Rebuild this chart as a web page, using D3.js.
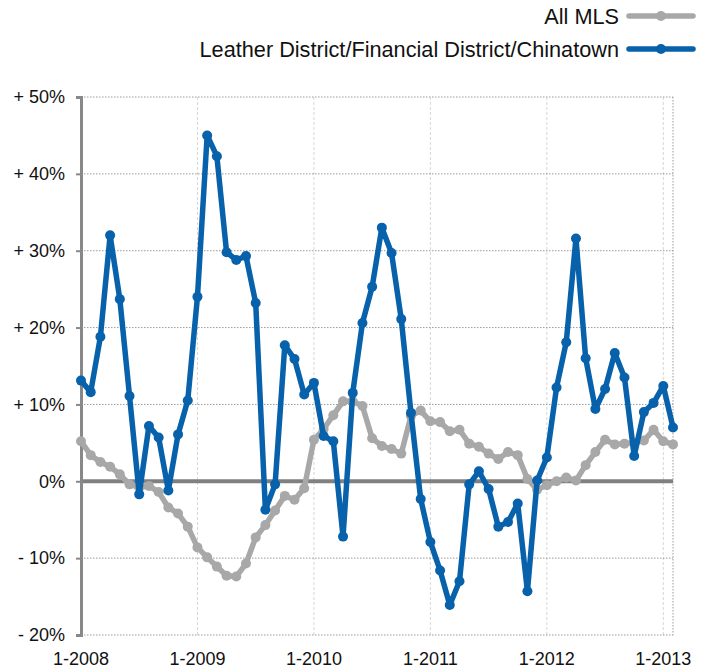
<!DOCTYPE html>
<html>
<head>
<meta charset="utf-8">
<style>
  body { margin: 0; background: #fff; }
  svg { display: block; font-family: "Liberation Sans", Arial, sans-serif; }
  .grid-h line { stroke: #9a9a9a; stroke-width: 1; stroke-dasharray: 1.5 1.5; }
  .grid-v line { stroke: #d6d6d6; stroke-width: 1; stroke-dasharray: 3 2; }
</style>
</head>
<body>
<svg width="709" height="668"></svg>
<script src="https://cdn.jsdelivr.net/npm/d3@7"></script>
<script>

// monthly values, Jan 2008 .. Feb 2013 (% change year over year)
var allMLS = [5.2, 3.4, 2.5, 1.9, 0.9, -0.4, -0.8, -0.6, -1.4, -3.4, -4.2, -5.9,
              -8.6, -9.9, -11.1, -12.3, -12.4, -10.7, -7.3, -5.7, -3.8, -1.9, -2.4, -0.9,
              5.4, 6.8, 8.6, 10.4, 10.4, 9.8, 5.6, 4.6, 4.2, 3.6, 8.5, 9.2,
              7.8, 7.7, 6.5, 6.7, 4.9, 4.5, 3.6, 2.9, 3.8, 3.4, 0.3, -1.1,
              -0.5, 0.0, 0.5, 0.1, 2.1, 3.8, 5.4, 4.8, 4.9, 5.0, 5.3, 6.7,
              5.2, 4.8];

var leather = [13.1, 11.6, 18.8, 32.0, 23.7, 11.1, -1.7, 7.2, 5.7, -1.2, 6.1, 10.5,
               24.0, 45.0, 42.3, 29.8, 28.8, 29.3, 23.2, -3.7, -0.4, 17.7, 15.9, 11.3,
               12.8, 5.9, 5.2, -7.2, 11.5, 20.6, 25.3, 33.0, 29.7, 21.1, 8.9, -2.3,
               -7.9, -11.6, -16.1, -13.0, -0.4, 1.3, -1.0, -5.9, -5.3, -2.9, -14.3, 0.1,
               3.1, 12.2, 18.1, 31.6, 16.0, 9.4, 12.0, 16.7, 13.5, 3.3, 9.0, 10.2,
               12.4, 7.0];

var yTicks = [-20, -10, 0, 10, 20, 30, 40, 50];
var yearLabels = ["1-2008", "1-2009", "1-2010", "1-2011", "1-2012", "1-2013"];

var series = [
  {name: "All MLS", values: allMLS, color: "#a8a8a8"},
  {name: "Leather District/Financial District/Chinatown", values: leather, color: "#0761ab"}
];

var svg = d3.select("svg");
var plotLeft = 81, plotRight = 673, plotTop = 97, plotBottom = 635;

var x = d3.scaleLinear().domain([0, allMLS.length - 1]).range([plotLeft, plotRight]);
var y = d3.scaleLinear().domain([-20, 50]).range([plotBottom, plotTop]);

// vertical year gridlines
svg.append("g").attr("class", "grid-v")
  .selectAll("line").data(yearLabels).enter().append("line")
    .attr("x1", function(d, i) { return x(i * 12); })
    .attr("x2", function(d, i) { return x(i * 12); })
    .attr("y1", plotTop).attr("y2", plotBottom);

// horizontal gridlines
svg.append("g").attr("class", "grid-h")
  .selectAll("line").data(yTicks.filter(function(d) { return d !== 0; })).enter().append("line")
    .attr("x1", plotLeft).attr("x2", plotRight)
    .attr("y1", function(d) { return y(d); })
    .attr("y2", function(d) { return y(d); });

// right border
svg.append("line")
  .attr("x1", plotRight).attr("x2", plotRight).attr("y1", plotTop).attr("y2", plotBottom)
  .attr("stroke", "#9a9a9a").attr("stroke-dasharray", "1.5 1.5");

// zero line
svg.append("line")
  .attr("x1", plotLeft).attr("x2", plotRight).attr("y1", y(0)).attr("y2", y(0))
  .attr("stroke", "#808080").attr("stroke-width", 4);

// y axis
var yAxis = d3.axisLeft(y).tickValues(yTicks).tickSize(5).tickPadding(11)
  .tickFormat(function(d) { return d > 0 ? "+ " + d + "%" : d < 0 ? "- " + (-d) + "%" : "0%"; });

var gy = svg.append("g").attr("transform", "translate(" + plotLeft + ",0)").call(yAxis);
gy.select(".domain").attr("stroke", "#888").attr("stroke-width", 3);
gy.selectAll(".tick line").attr("stroke", "#888").attr("stroke-width", 2);
gy.selectAll(".tick text").attr("fill", "#111").style("font-size", "18px")
  .style("font-family", "'Liberation Sans', Arial, sans-serif");

// x labels
svg.append("g").selectAll("text").data(yearLabels).enter().append("text")
  .attr("x", function(d, i) { return x(i * 12); })
  .attr("y", 665)
  .attr("text-anchor", "middle")
  .attr("fill", "#111")
  .style("font-size", "18px")
  .text(function(d) { return d; });

// lines + dots
var line = d3.line()
  .x(function(d, i) { return x(i); })
  .y(function(d) { return y(d); });

series.forEach(function(s) {
  var g = svg.append("g");
  g.append("path")
    .datum(s.values)
    .attr("fill", "none")
    .attr("stroke", s.color)
    .attr("stroke-width", 5.5)
    .attr("stroke-linejoin", "round")
    .attr("d", line);
  g.selectAll("circle").data(s.values).enter().append("circle")
    .attr("cx", function(d, i) { return x(i); })
    .attr("cy", function(d) { return y(d); })
    .attr("r", 5)
    .attr("fill", s.color);
});

// legend
var legend = svg.selectAll(".legend").data(series).enter().append("g")
  .attr("class", "legend")
  .attr("transform", function(d, i) { return "translate(0," + (16 + i * 33) + ")"; });

legend.append("line")
  .attr("x1", 629).attr("x2", 693).attr("y1", 0).attr("y2", 0)
  .attr("stroke", function(d) { return d.color; })
  .attr("stroke-width", 5.5).attr("stroke-linecap", "round");
legend.append("circle")
  .attr("cx", 661).attr("cy", 0).attr("r", 5)
  .attr("fill", function(d) { return d.color; });
legend.append("text")
  .attr("x", 619).attr("y", 0).attr("dy", "0.35em")
  .attr("text-anchor", "end")
  .attr("fill", "#111")
  .style("font-size", "21.7px")
  .text(function(d) { return d.name; });

</script>
</body>
</html>
